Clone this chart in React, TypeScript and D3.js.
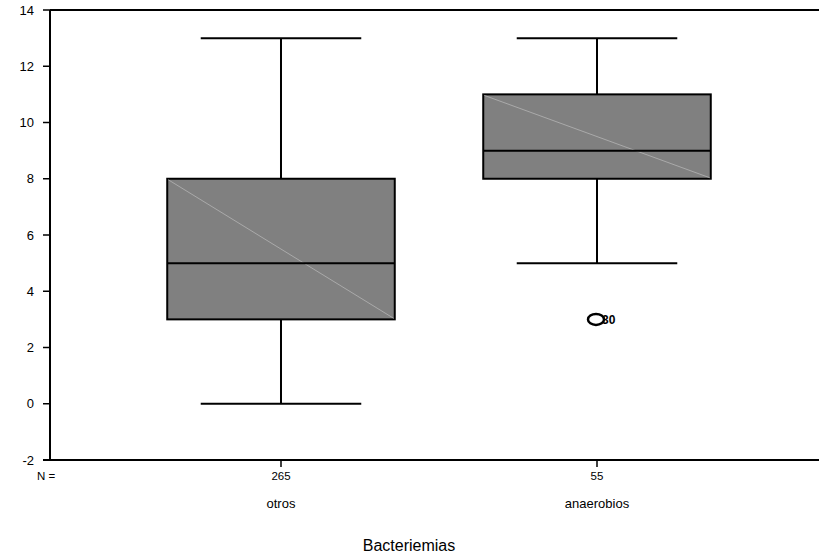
import React, { useEffect, useRef } from "react";
import * as d3 from "d3";

const categories = ["otros", "anaerobios"];
const counts = [265, 55];
const whiskerLow = [0, 5];
const q1 = [3, 8];
const medians = [5, 9];
const q3 = [8, 11];
const whiskerHigh = [13, 13];
const outliers = [{ cat: "anaerobios", value: 3, label: "30" }];
const yTicks = [-2, 0, 2, 4, 6, 8, 10, 12, 14];

const width = 819;
const height = 558;

const App = () => {
  const ref = useRef<SVGSVGElement>(null);

  useEffect(() => {
    const svg = d3.select(ref.current);
    svg.selectAll("*").remove();

    const left = 50;
    const top = 10;
    const bottom = 460;

    const y = d3.scaleLinear().domain([-2, 14]).range([bottom, top]);
    const x = d3.scalePoint<string>().domain(categories).range([left, 828]).padding(0.731);
    const boxW = x.step() * 0.72;
    const capW = x.step() * 0.508;
    const font = "'Liberation Sans', Arial, sans-serif";

    // frame: left and top lines, bottom axis
    svg.append("line").attr("x1", left).attr("x2", left).attr("y1", top).attr("y2", bottom)
      .attr("stroke", "#000").attr("stroke-width", 2);
    svg.append("line").attr("x1", left).attr("x2", width).attr("y1", top).attr("y2", top)
      .attr("stroke", "#000").attr("stroke-width", 2);
    svg.append("line").attr("x1", left - 7).attr("x2", width).attr("y1", bottom).attr("y2", bottom)
      .attr("stroke", "#000").attr("stroke-width", 2);

    // y ticks
    const yt = svg.append("g");
    yt.selectAll("line").data(yTicks).enter().append("line")
      .attr("x1", left - 7).attr("x2", left).attr("y1", (d) => y(d)).attr("y2", (d) => y(d))
      .attr("stroke", "#000").attr("stroke-width", 1.5);
    yt.selectAll("text").data(yTicks).enter().append("text")
      .attr("x", 34).attr("y", (d) => y(d)).attr("dy", "0.35em")
      .attr("text-anchor", "end").attr("font-family", font).attr("font-size", 13)
      .text((d) => d);

    // x ticks + labels
    svg.append("text").attr("x", 37).attr("y", 480).attr("font-family", font).attr("font-size", 11.5)
      .text("N =");
    const g = svg.selectAll(".box").data(categories).enter().append("g").attr("class", "box");
    g.append("line").attr("x1", (d) => x(d)!).attr("x2", (d) => x(d)!)
      .attr("y1", bottom).attr("y2", bottom + 7).attr("stroke", "#000").attr("stroke-width", 1.5);
    g.append("text").attr("x", (d) => x(d)!).attr("y", 480).attr("text-anchor", "middle")
      .attr("font-family", font).attr("font-size", 11.5).text((d, i) => counts[i]);
    g.append("text").attr("x", (d) => x(d)!).attr("y", 508).attr("text-anchor", "middle")
      .attr("font-family", font).attr("font-size", 13).text((d) => d);

    // whiskers
    g.append("line").attr("x1", (d) => x(d)!).attr("x2", (d) => x(d)!)
      .attr("y1", (d, i) => y(whiskerLow[i])).attr("y2", (d, i) => y(whiskerHigh[i]))
      .attr("stroke", "#000").attr("stroke-width", 2);
    g.append("line").attr("x1", (d) => x(d)! - capW / 2).attr("x2", (d) => x(d)! + capW / 2)
      .attr("y1", (d, i) => y(whiskerLow[i])).attr("y2", (d, i) => y(whiskerLow[i]))
      .attr("stroke", "#000").attr("stroke-width", 2);
    g.append("line").attr("x1", (d) => x(d)! - capW / 2).attr("x2", (d) => x(d)! + capW / 2)
      .attr("y1", (d, i) => y(whiskerHigh[i])).attr("y2", (d, i) => y(whiskerHigh[i]))
      .attr("stroke", "#000").attr("stroke-width", 2);

    // boxes
    g.append("rect").attr("x", (d) => x(d)! - boxW / 2).attr("width", boxW)
      .attr("y", (d, i) => y(q3[i])).attr("height", (d, i) => y(q1[i]) - y(q3[i]))
      .attr("fill", "#808080").attr("stroke", "#000").attr("stroke-width", 2);
    g.append("line").attr("x1", (d) => x(d)! - boxW / 2 + 1).attr("x2", (d) => x(d)! + boxW / 2 - 1)
      .attr("y1", (d, i) => y(q3[i]) + 1).attr("y2", (d, i) => y(q1[i]) - 1)
      .attr("stroke", "#b4b4b4").attr("stroke-width", 0.8);
    g.append("line").attr("x1", (d) => x(d)! - boxW / 2).attr("x2", (d) => x(d)! + boxW / 2)
      .attr("y1", (d, i) => y(medians[i])).attr("y2", (d, i) => y(medians[i]))
      .attr("stroke", "#000").attr("stroke-width", 2);

    // outliers
    const o = svg.selectAll(".out").data(outliers).enter().append("g");
    o.append("ellipse").attr("cx", (d) => x(d.cat)! - 1).attr("cy", (d) => y(d.value))
      .attr("rx", 8).attr("ry", 5.5).attr("fill", "none").attr("stroke", "#000").attr("stroke-width", 2.5);
    o.append("text").attr("x", (d) => x(d.cat)! + 5).attr("y", (d) => y(d.value)).attr("dy", "0.35em")
      .attr("font-family", font).attr("font-size", 12).attr("font-weight", "bold").text((d) => d.label);

    // title
    svg.append("text").attr("x", 409).attr("y", 551).attr("text-anchor", "middle")
      .attr("font-family", font).attr("font-size", 16).text("Bacteriemias");
  }, []);

  return (
    <svg ref={ref} width={width} height={height}
      style={{ position: "absolute", left: 0, top: 0, background: "#fff" }} />
  );
};

export default App;
